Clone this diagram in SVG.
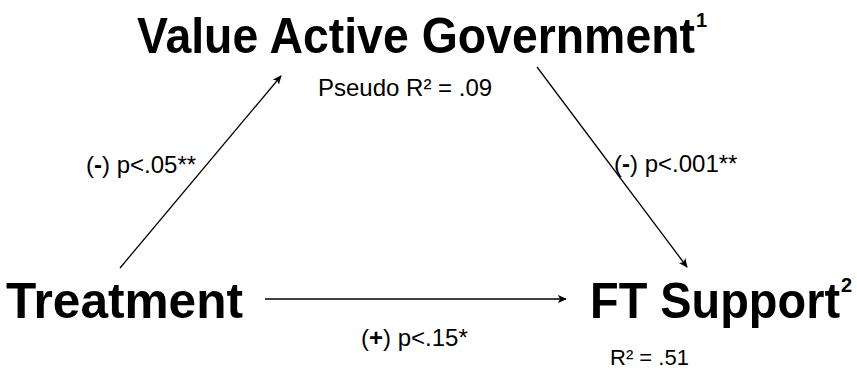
<svg xmlns="http://www.w3.org/2000/svg" width="857" height="371" viewBox="0 0 857 371">
<style>
.big{font-family:"Liberation Sans",Arial,sans-serif;font-weight:bold;font-size:50px;fill:#000}
.sup{font-size:20px}
.lbl{font-family:"Liberation Sans",Arial,sans-serif;font-size:24px;fill:#000}
.b{font-weight:bold}
.conn{stroke:#000;stroke-width:1.3;fill:none}
</style>
<defs>
<marker id="ah" viewBox="0 0 10 10" refX="9" refY="5" markerWidth="9" markerHeight="9" markerUnits="userSpaceOnUse" orient="auto">
<path d="M0,0.5 L10,5 L0,9.5 L2.5,5 Z" fill="#000"/>
</marker>
</defs>
<rect width="857" height="371" fill="#fff"/>
<g id="connectors">
<line class="conn" x1="120" y1="268" x2="281" y2="76" marker-end="url(#ah)"/>
<line class="conn" x1="537" y1="67" x2="687" y2="267" marker-end="url(#ah)"/>
<line class="conn" x1="265" y1="299" x2="566" y2="299" marker-end="url(#ah)"/>
</g>
<g id="node-vag">
<text class="big" x="137" y="53"><tspan textLength="558" lengthAdjust="spacingAndGlyphs">Value Active Government</tspan><tspan class="sup" dx="1" dy="-26">1</tspan></text>
<text class="lbl" x="318" y="96">Pseudo R² = .09</text>
</g>
<g id="node-treatment">
<text class="big" x="6" y="318" textLength="237" lengthAdjust="spacingAndGlyphs">Treatment</text>
</g>
<g id="node-ft">
<text class="big" x="590" y="318"><tspan textLength="250" lengthAdjust="spacingAndGlyphs">FT Support</tspan><tspan class="sup" dx="1" dy="-26">2</tspan></text>
<text class="lbl" x="610" y="365" style="font-size:22px">R² = .51</text>
</g>
<g id="labels">
<text class="lbl" x="86" y="173">(<tspan class="b">-</tspan>) p&lt;.05**</text>
<text class="lbl" x="614" y="172">(<tspan class="b">-</tspan>) p&lt;.001**</text>
<text class="lbl" x="361" y="346">(<tspan class="b">+</tspan>) p&lt;.15*</text>
</g>
</svg>
